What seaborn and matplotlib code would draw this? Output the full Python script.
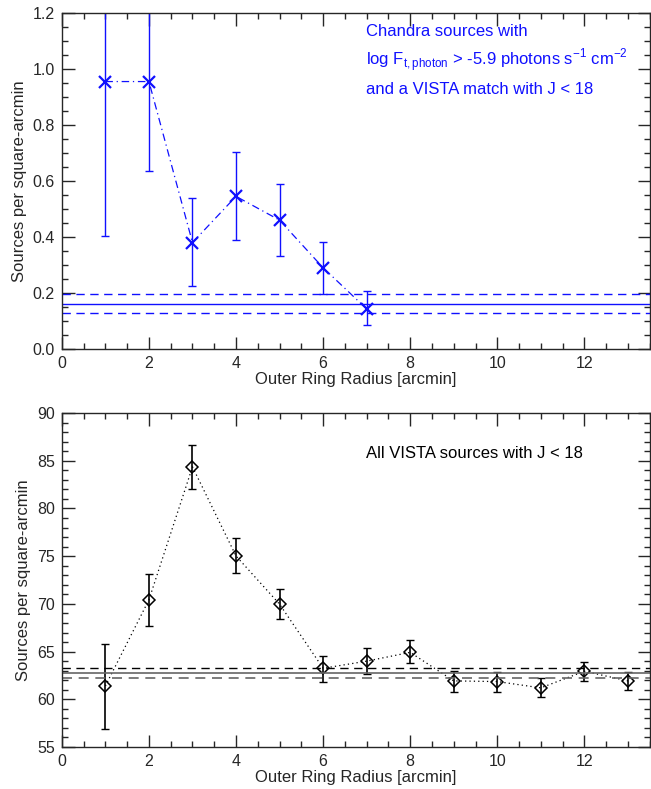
import numpy as np
import pandas as pd
import matplotlib
matplotlib.use('Agg')
import matplotlib.pyplot as plt
from matplotlib.ticker import MultipleLocator
import seaborn as sns

sns.set_style('ticks')
plt.rcParams['font.family'] = ['Liberation Sans', 'DejaVu Sans']
plt.rcParams['mathtext.fontset'] = 'custom'
plt.rcParams['mathtext.rm'] = 'Liberation Sans'

# Chandra + VISTA match (top panel)
chandra_r = [1, 2, 3, 4, 5, 6, 7]
chandra_val = [0.955, 0.955, 0.380, 0.545, 0.460, 0.290, 0.143]
chandra_lo = [0.405, 0.637, 0.225, 0.390, 0.333, 0.197, 0.085]
chandra_hi = [1.505, 1.273, 0.538, 0.703, 0.588, 0.382, 0.207]
chandra_bg = 0.162
chandra_bg_band = [0.197, 0.127]

# All VISTA sources (bottom panel)
vista_r = [1, 2, 3, 4, 5, 6, 7, 8, 9, 10, 11, 12, 13]
vista_val = [61.4, 70.43, 84.36, 75.02, 69.97, 63.25, 64.0, 64.92, 61.93, 61.86, 61.2, 62.94, 61.93]
vista_lo = [56.9, 67.64, 82.06, 73.2, 68.4, 61.86, 62.7, 63.77, 60.81, 60.81, 60.22, 61.96, 61.02]
vista_hi = [65.8, 73.18, 86.7, 76.94, 71.57, 64.57, 65.34, 66.17, 63.0, 62.83, 62.2, 63.88, 62.83]
vista_bg = 62.73
vista_bg_band = [63.25, 62.24]

top_df = pd.DataFrame({'r': chandra_r, 'v': chandra_val})
bot_df = pd.DataFrame({'r': vista_r, 'v': vista_val})

fig = plt.figure(figsize=(6.51, 7.89), dpi=100)
ax1 = fig.add_axes([0.095, 0.5577, 0.903, 0.4259])
ax2 = fig.add_axes([0.095, 0.0532, 0.903, 0.4233])

blue = '#1010ff'

# top panel
sns.lineplot(data=top_df, x='r', y='v', ax=ax1, color=blue, lw=0.9,
             linestyle=(0, (6, 3, 1, 3)), marker='x', markersize=8,
             markeredgewidth=1.6, markeredgecolor=blue)
val = np.array(chandra_val)
ax1.errorbar(chandra_r, val, yerr=[val - np.array(chandra_lo), np.array(chandra_hi) - val],
             fmt='none', ecolor=blue, elinewidth=1.0, capsize=3)
ax1.axhline(chandra_bg, color=blue, lw=1.0)
for b in chandra_bg_band:
    ax1.axhline(b, color=blue, lw=1.0, ls=(0, (6, 4)))
ax1.set_ylim(0, 1.2)
ax1.yaxis.set_major_locator(MultipleLocator(0.2))
ax1.yaxis.set_minor_locator(MultipleLocator(0.05))
ax1.text(0.517, 0.93, 'Chandra sources with', transform=ax1.transAxes, color=blue, fontsize=12)
ax1.text(0.517, 0.845, r'log F$_{\mathrm{t,photon}}$ > -5.9 photons s$^{\mathrm{-1}}$ cm$^{\mathrm{-2}}$',
         transform=ax1.transAxes, color=blue, fontsize=12)
ax1.text(0.517, 0.76, 'and a VISTA match with J < 18', transform=ax1.transAxes, color=blue, fontsize=12)

# bottom panel
sns.lineplot(data=bot_df, x='r', y='v', ax=ax2, color='black', lw=0.9,
             linestyle=(0, (1, 2.5)), marker='D', markersize=6,
             markerfacecolor='none', markeredgecolor='black', markeredgewidth=1.1)
val = np.array(vista_val)
ax2.errorbar(vista_r, val, yerr=[val - np.array(vista_lo), np.array(vista_hi) - val],
             fmt='none', ecolor='black', elinewidth=1.2, capsize=3)
ax2.axhline(vista_bg, color='#666666', lw=1.2)
ax2.axhline(vista_bg_band[0], color='black', lw=1.0, ls=(0, (6, 4)))
ax2.axhline(vista_bg_band[1], color='#666666', lw=1.2, ls=(0, (6, 4)))
ax2.set_ylim(55, 90)
ax2.yaxis.set_major_locator(MultipleLocator(5))
ax2.yaxis.set_minor_locator(MultipleLocator(1))
ax2.text(0.517, 0.865, 'All VISTA sources with J < 18', transform=ax2.transAxes,
         color='black', fontsize=12)

for ax in (ax1, ax2):
    ax.set_xlim(0, 13.5)
    ax.xaxis.set_major_locator(MultipleLocator(2))
    ax.xaxis.set_minor_locator(MultipleLocator(0.5))
    ax.tick_params(which='both', direction='in', top=True, right=True, labelsize=11.5, pad=5)
    ax.tick_params(which='major', length=9, width=1.0)
    ax.tick_params(which='minor', length=4, width=1.0)
    for s in ax.spines.values():
        s.set_linewidth(1.0)
        s.set_visible(True)
    ax.set_xlabel('Outer Ring Radius [arcmin]', fontsize=12, labelpad=1)
    ax.set_ylabel('Sources per square-arcmin', fontsize=12, labelpad=4)

fig.savefig('out.png', dpi=100)
